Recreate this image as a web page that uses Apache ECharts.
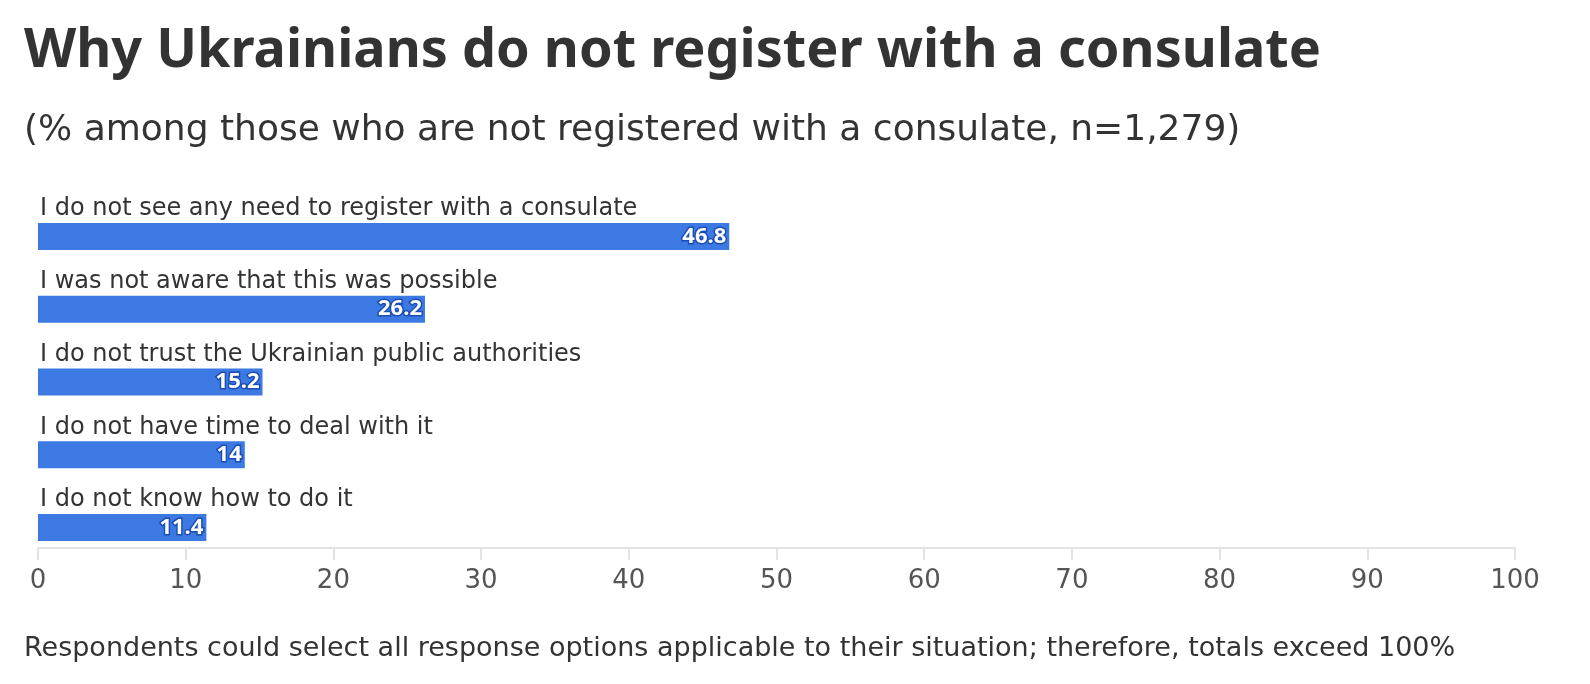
<!DOCTYPE html>
<html><head><meta charset="utf-8">
<script src="https://cdn.jsdelivr.net/npm/echarts@6/dist/echarts.min.js"></script>
<style>html,body{margin:0;padding:0;background:#fff;overflow:hidden}#c{width:100vw;height:100vh}</style>
</head><body><div id="c"></div>
<script>
const categories = [
  "I do not see any need to register with a consulate",
  "I was not aware that this was possible",
  "I do not trust the Ukrainian public authorities",
  "I do not have time to deal with it",
  "I do not know how to do it"
];
const values = [46.8, 26.2, 15.2, 14, 11.4];
const xTicks = [0, 10, 20, 30, 40, 50, 60, 70, 80, 90, 100];

const body = 'DejaVu Sans';
const chart = echarts.init(document.getElementById('c'));
chart.setOption({
  animation: false,
  backgroundColor: '#fff',
  title: [
    { text: 'Why Ukrainians do not register with a consulate', left: 19, top: 20,
      textStyle: { fontFamily: 'Noto Sans', fontWeight: 'bold', fontSize: 54, color: '#333' } },
    { text: '(% among those who are not registered with a consulate, n=1,279)', left: 19, top: 108,
      textStyle: { fontFamily: body, fontWeight: 'normal', fontSize: 36, color: '#333' } },
    { text: 'Respondents could select all response options applicable to their situation; therefore, totals exceed 100%', left: 19, top: 630,
      textStyle: { fontFamily: body, fontWeight: 'normal', fontSize: 27, color: '#333' } }
  ],
  grid: { left: 38, right: 75, top: 200, bottom: 120, containLabel: false },
  xAxis: {
    type: 'value', min: 0, max: 100, interval: 10, offset: -16,
    axisLine: { show: true, lineStyle: { color: '#e3e3e3', width: 2 } },
    axisTick: { show: true, length: 12, lineStyle: { color: '#e3e3e3', width: 2 } },
    splitLine: { show: false },
    axisLabel: { margin: 20, fontFamily: body, fontSize: 26, color: '#555',
      formatter: v => xTicks.includes(v) ? String(v) : '' }
  },
  yAxis: {
    type: 'category', data: categories, inverse: true,
    axisLine: { show: false }, axisTick: { show: false },
    axisLabel: { inside: true, margin: 2, align: 'left', verticalAlign: 'middle',
      interval: 0, showMinLabel: true, showMaxLabel: true, hideOverlap: false,
      formatter: v => v + '\n ', lineHeight: 55,
      fontFamily: body, fontSize: 24, color: '#333' }
  },
  series: [{
    type: 'bar', data: values, barWidth: 27,
    itemStyle: { color: '#3d79e3' },
    label: { show: true, position: 'insideRight', distance: 3,
      fontFamily: 'Noto Sans', fontWeight: 'bold', fontSize: 22, color: '#fff',
      textBorderColor: '#1c4fb5', textBorderWidth: 3 }
  }]
});
</script></body></html>
